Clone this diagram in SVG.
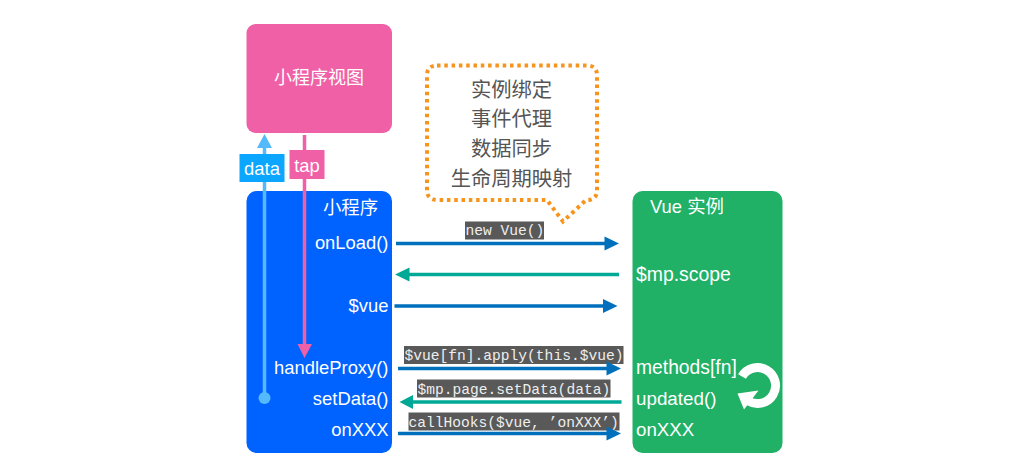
<svg xmlns="http://www.w3.org/2000/svg" width="1012" height="474" viewBox="0 0 1012 474">
<defs>
<style>
text{font-family:"Helvetica Neue","Liberation Sans","Noto Sans CJK SC",sans-serif}
.w{fill:#fff;font-size:18.4px}
.e{text-anchor:end}
.b{fill:#555;font-size:20.300px;text-anchor:middle}
.c{font-family:"Liberation Mono",monospace;font-size:14.600px;fill:#eee}
.cbg{fill:#595959}
.blue{stroke:#0070bc;stroke-width:3.500;fill:none}
.teal{stroke:#00a896;stroke-width:3.500;fill:none}
</style>
</defs>
<rect width="1012" height="474" fill="#fff"/>
<g id="view"><rect x="246.500" y="24" width="145.500" height="109" rx="9" fill="#f060a7"/><text class="w" x="319" y="84" text-anchor="middle" style="font-size:18px">小程序视图</text></g>
<g id="miniapp"><rect x="246.500" y="191" width="145.500" height="262" rx="10" fill="#0062ff"/>
<text class="w" x="350.500" y="214" text-anchor="middle">小程序</text>
<text class="w e" x="388.500" y="249">onLoad()</text>
<text class="w e" x="388.500" y="311.500">$vue</text>
<text class="w e" x="388.500" y="374">handleProxy()</text>
<text class="w e" x="388.500" y="405">setData()</text>
<text class="w e" x="388.500" y="436">onXXX</text></g>
<g id="vue"><rect x="632.500" y="191" width="150" height="262" rx="10" fill="#20b066"/>
<text class="w" x="650" y="213">Vue 实例</text>
<text class="w" x="636" y="280.500" style="font-size:19.400px">$mp.scope</text>
<text class="w" x="636" y="374" style="font-size:19.300px">methods[fn]</text>
<text class="w" x="636" y="405" style="font-size:18.800px">updated()</text>
<text class="w" x="636" y="436" style="font-size:18.700px">onXXX</text>
<path d="M742 376.500A18 18 0 1 1 748.300 401" fill="none" stroke="#fff" stroke-width="9"/>
<path d="M737.500 393.500L758.500 390.500L744 409.500Z" fill="#fff"/></g>
<g id="note"><path d="M437 65.500H587Q597 65.500 597 75.500V190Q597 200 587 200H586L563 221.500L547 200H438Q427 200 427 190V75.500Q427 65.500 437 65.500Z" fill="#fff" stroke="#f7941d" stroke-width="4" stroke-dasharray="3.500 3.800"/>
<text class="b" x="511.500" y="97">实例绑定</text><text class="b" x="511.500" y="126">事件代理</text><text class="b" x="511.500" y="156">数据同步</text><text class="b" x="511.500" y="186">生命周期映射</text></g>
<g id="code-labels">
<rect class="cbg" x="465" y="221.500" width="79" height="18"/><text class="c" x="465.500" y="235">new Vue()</text>
<rect class="cbg" x="404" y="346" width="219.500" height="18"/><text class="c" x="404.500" y="360">$vue[fn].apply(this.$vue)</text>
<rect class="cbg" x="417" y="379.500" width="193.500" height="18"/><text class="c" x="417.500" y="394">$mp.page.setData(data)</text>
<rect class="cbg" x="408.500" y="412.500" width="211" height="18"/><text class="c" x="408.500" y="427">callHooks($vue, ’onXXX’)</text>
</g>
<g id="connectors">
<path d="M264.500 398V145" stroke="#54bafc" stroke-width="3.500" fill="none"/><path d="M257 148H272L264.500 134Z" fill="#54bafc"/><circle cx="264.500" cy="398" r="6" fill="#54bafc"/>
<path d="M304.500 135V345" stroke="#f060a7" stroke-width="3.500" fill="none"/><path d="M297.500 344H312L304.500 358Z" fill="#f060a7"/>
<path class="blue" d="M396 243.500H606"/><path d="M604.500 236.500V250.500L619 243.500Z" fill="#0070bc"/>
<path class="teal" d="M619 274.500H408"/><path d="M409.500 267.500V281.500L395 274.500Z" fill="#00a896"/>
<path class="blue" d="M394.500 306H604"/><path d="M603 299V313L617.500 306Z" fill="#0070bc"/>
<path class="blue" d="M398 368.500H608"/><path d="M606.500 361.500V375.500L621 368.500Z" fill="#0070bc"/>
<path class="teal" d="M621.500 402H412"/><path d="M413 395V409L399.500 402Z" fill="#00a896"/>
<path class="blue" d="M398 433.500H608"/><path d="M606.500 426.500V440.500L621 433.500Z" fill="#0070bc"/>
</g>
<g id="label-data"><rect x="239.500" y="154" width="45" height="28" fill="#0ba6ff"/><text class="w" x="262" y="175" text-anchor="middle">data</text></g>
<g id="label-tap"><rect x="289.500" y="150" width="35" height="29" fill="#f060a7"/><text class="w" x="307" y="172" text-anchor="middle">tap</text></g>
</svg>
